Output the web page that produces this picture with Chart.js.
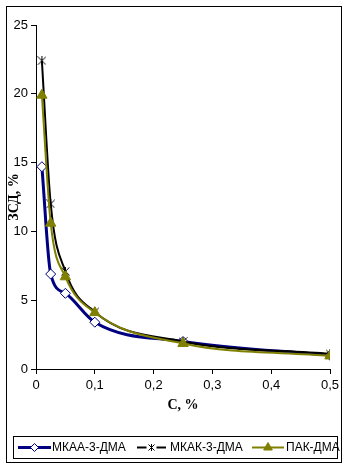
<!DOCTYPE html>
<html>
<head>
<meta charset="utf-8">
<script src="https://cdn.jsdelivr.net/npm/chart.js@4"></script>
<style>
  html, body { margin: 0; padding: 0; background: #fff; }
  #wrap { width: 347px; height: 467px; position: relative; }
</style>
</head>
<body>
<div id="wrap"><canvas id="chart" width="347" height="467"></canvas></div>
<script>
const concentrations = [0.01, 0.025, 0.05, 0.1, 0.25, 0.5];
const mkaa = [14.7, 6.9, 5.5, 3.4, 2.0, 1.0];
const mkak = [22.4, 12.0, 7.1, 4.15, 2.0, 1.1];
const pak = [19.9, 10.6, 6.7, 4.1, 1.85, 0.95];
const seriesNames = ['МКАА-3-ДМА', 'МКАК-3-ДМА', 'ПАК-ДМА'];
const xTicks = [0, 0.1, 0.2, 0.3, 0.4, 0.5];
const yTicks = [0, 5, 10, 15, 20, 25];

const FONT = "'Liberation Sans', Arial, sans-serif";
const SERIF = "'Liberation Serif', 'Times New Roman', serif";

function pts(ys) {
    return concentrations.map((x, i) => ({ x: x, y: ys[i] }));
}

// Excel-like "star" marker: X with a vertical bar
function starMarker(size) {
    const c = document.createElement('canvas');
    c.width = size;
    c.height = size;
    const g = c.getContext('2d');
    g.strokeStyle = '#000';
    g.lineWidth = 1;
    g.beginPath();
    g.moveTo(0.5, 0.5); g.lineTo(size - 0.5, size - 0.5);
    g.moveTo(size - 0.5, 0.5); g.lineTo(0.5, size - 0.5);
    g.moveTo(size / 2, 0); g.lineTo(size / 2, size);
    g.stroke();
    return c;
}
const starImg = starMarker(9);
const starSmall = starMarker(7);

const frame = {
    id: 'frame',
    afterDraw(chart) {
        const ctx = chart.ctx;
        ctx.save();
        ctx.strokeStyle = '#000';
        ctx.lineWidth = 1;
        ctx.strokeRect(6.5, 6.5, 335, 456);

        // legend box
        ctx.strokeRect(13.5, 436.5, 324, 22);
        ctx.font = '12px ' + FONT;
        ctx.textBaseline = 'middle';
        const cy = 447.5;
        const items = [
            { x0: 18, x1: 51, tx: 52 },
            { x0: 137, x1: 166, tx: 170 },
            { x0: 252, x1: 284, tx: 286 }
        ];
        chart.data.datasets.forEach((ds, i) => {
            const it = items[i];
            const mx = (it.x0 + it.x1) / 2;
            ctx.strokeStyle = ds.borderColor;
            ctx.lineWidth = ds.borderWidth;
            ctx.beginPath();
            ctx.moveTo(it.x0, cy);
            ctx.lineTo(it.x1, cy);
            ctx.stroke();
            if (i === 1) {
                ctx.fillStyle = '#fff';
                ctx.fillRect(mx - 5, cy - 4, 10, 8);
                ctx.drawImage(starSmall, Math.round(mx - 3.5), Math.round(cy - 3.5));
            } else {
                ctx.fillStyle = ds.backgroundColor;
                ctx.strokeStyle = ds.pointBorderColor || ds.borderColor;
                ctx.lineWidth = 1;
                Chart.helpers.drawPoint(ctx, {
                    pointStyle: ds.pointStyle,
                    radius: ds.pointRadius - 1,
                    borderWidth: 1
                }, mx, cy);
            }
            ctx.fillStyle = '#000';
            ctx.fillText(ds.label, it.tx, cy);
        });
        ctx.restore();
    }
};

new Chart(document.getElementById('chart').getContext('2d'), {
    type: 'scatter',
    data: {
        datasets: [
            {
                label: seriesNames[0],
                data: pts(mkaa),
                showLine: true,
                borderColor: '#000080',
                backgroundColor: '#ffffff',
                pointBorderColor: '#000080',
                borderWidth: 3,
                pointStyle: 'rectRot',
                pointRadius: 5,
                pointBorderWidth: 1,
                cubicInterpolationMode: 'monotone',
                order: 3
            },
            {
                label: seriesNames[1],
                data: pts(mkak),
                showLine: true,
                borderColor: '#000000',
                backgroundColor: '#000000',
                borderWidth: 2,
                pointStyle: starImg,
                pointRadius: 5,
                pointBorderWidth: 1,
                cubicInterpolationMode: 'monotone',
                order: 2
            },
            {
                label: seriesNames[2],
                data: pts(pak),
                showLine: true,
                borderColor: '#808000',
                backgroundColor: '#808000',
                pointBorderColor: '#808000',
                borderWidth: 2,
                pointStyle: 'triangle',
                pointRadius: 6,
                pointBorderWidth: 1,
                cubicInterpolationMode: 'monotone',
                order: 1
            }
        ]
    },
    options: {
        responsive: false,
        animation: false,
        layout: { padding: { left: 6, right: 17, top: 25, bottom: 53 } },
        plugins: {
            legend: { display: false },
            tooltip: { enabled: false }
        },
        scales: {
            x: {
                type: 'linear',
                min: 0,
                max: 0.5,
                afterBuildTicks: (axis) => { axis.ticks = xTicks.map(v => ({ value: v })); },
                afterFit: (axis) => { axis.height = 45; },
                grid: { drawOnChartArea: false, drawTicks: true, tickLength: 5, color: '#000' },
                border: { color: '#000', width: 1 },
                ticks: {
                    color: '#000',
                    font: { family: FONT, size: 13 },
                    padding: 4,
                    maxRotation: 0,
                    callback: (v) => String(v).replace('.', ',')
                },
                title: {
                    display: true,
                    text: 'С, %',
                    color: '#000',
                    font: { family: SERIF, size: 14, weight: 'bold' },
                    padding: { top: 4, bottom: 0 }
                }
            },
            y: {
                min: 0,
                max: 25,
                afterBuildTicks: (axis) => { axis.ticks = yTicks.map(v => ({ value: v })); },
                afterFit: (axis) => { axis.width = 30; },
                grid: { drawOnChartArea: false, drawTicks: true, tickLength: 5, color: '#000' },
                border: { color: '#000', width: 1 },
                ticks: {
                    color: '#000',
                    font: { family: FONT, size: 13 },
                    padding: 3
                },
                title: {
                    display: true,
                    text: 'ЗСД, %',
                    color: '#000',
                    font: { family: SERIF, size: 14, weight: 'bold' },
                    padding: 0
                }
            }
        }
    },
    plugins: [frame]
});
</script>
</body>
</html>
